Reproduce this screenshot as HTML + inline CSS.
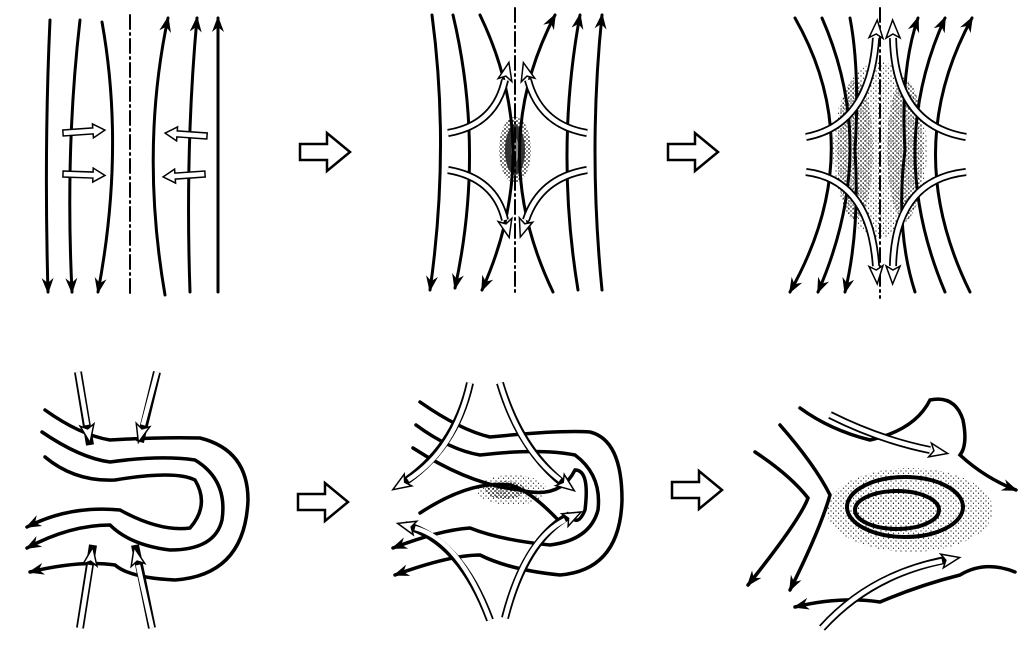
<!DOCTYPE html>
<html><head><style>
html,body{margin:0;padding:0;background:#fff;}
svg{display:block;}
</style></head><body>
<svg width="1024" height="645" viewBox="0 0 1024 645" xmlns="http://www.w3.org/2000/svg">
<defs>
<marker id="ah" markerUnits="userSpaceOnUse" markerWidth="20" markerHeight="20" refX="14" refY="6" orient="auto">
<path d="M0,0 L16,6 L0,12 L5,6 Z" fill="#000"/>
</marker>
<marker id="hh" markerUnits="userSpaceOnUse" markerWidth="30" markerHeight="30" refX="2" refY="10" orient="auto">
<path d="M2,3 L20,10 L2,17 L6,10 Z" fill="#fff" stroke="#000" stroke-width="1.5"/>
</marker>
<pattern id="dots" width="5" height="5" patternUnits="userSpaceOnUse">
<circle cx="1" cy="1" r="0.6" fill="#000"/><circle cx="3.5" cy="3.2" r="0.6" fill="#000"/>
</pattern>
<pattern id="dots2" width="4" height="4" patternUnits="userSpaceOnUse">
<circle cx="1" cy="1" r="0.9" fill="#000"/><circle cx="3" cy="3" r="0.8" fill="#000"/>
</pattern>
</defs>

<g fill="none" stroke="#000" stroke-width="3" stroke-linecap="round">
<path d="M50,20 Q44,150 48,292" marker-end="url(#ah)"/>
<path d="M80,20 Q65,150 72,292" marker-end="url(#ah)"/>
<path d="M102,22 Q125,150 98,292" marker-end="url(#ah)"/>
<path d="M130,15 L130,295" stroke-width="2" stroke-dasharray="14,4,2,4"/>
<path d="M165,295 Q140,150 168,18" marker-end="url(#ah)"/>
<path d="M190,292 Q185,150 197,18" marker-end="url(#ah)"/>
<path d="M218,292 L218,18" marker-end="url(#ah)"/>
</g>

<ellipse cx="515" cy="150" rx="16" ry="33" fill="url(#dots2)"/>
<ellipse cx="515" cy="150" rx="10" ry="25" fill="#333"/>
<ellipse cx="515" cy="150" rx="4" ry="12" fill="#888"/>
<ellipse cx="880" cy="150" rx="47" ry="88" fill="url(#dots)"/>
<ellipse cx="855" cy="150" rx="18" ry="70" fill="url(#dots2)" opacity="0.7"/>
<ellipse cx="905" cy="150" rx="18" ry="70" fill="url(#dots2)" opacity="0.7"/>

<g fill="none" stroke="#000" stroke-width="3" stroke-linecap="round">
<path d="M432,15 Q450,150 430,290" marker-end="url(#ah)"/>
<path d="M453,15 Q485,150 455,288" marker-end="url(#ah)"/>
<path d="M480,15 Q545,150 482,290" marker-end="url(#ah)"/>
<path d="M515,8 L515,296" stroke-width="2" stroke-dasharray="14,4,2,4"/>
<path d="M553,292 Q485,150 555,15" marker-end="url(#ah)"/>
<path d="M578,290 Q555,150 580,15" marker-end="url(#ah)"/>
<path d="M602,290 Q588,150 602,15" marker-end="url(#ah)"/>

<path d="M795,18 Q870,150 790,292" marker-end="url(#ah)"/>
<path d="M822,18 Q880,150 818,292" marker-end="url(#ah)"/>
<path d="M850,18 Q860,70 855,150 Q860,230 845,292" marker-end="url(#ah)"/>
<path d="M880,8 L880,298" stroke-width="2" stroke-dasharray="14,4,2,4"/>
<path d="M915,292 Q895,230 905,150 Q900,70 918,18" marker-end="url(#ah)"/>
<path d="M945,292 Q885,150 945,18" marker-end="url(#ah)"/>
<path d="M970,292 Q900,150 972,18" marker-end="url(#ah)"/>
</g>

<g fill="#fff" stroke="#000" stroke-width="1.5">
<g transform="translate(63,133) rotate(-4)"><polygon points="0,-3 30,-3 30,-7 42,0 30,7 30,3 0,3"/></g>
<g transform="translate(63,174) rotate(2)"><polygon points="0,-3 30,-3 30,-7 42,0 30,7 30,3 0,3"/></g>
<g transform="translate(207,136) rotate(184)"><polygon points="0,-3 30,-3 30,-7 42,0 30,7 30,3 0,3"/></g>
<g transform="translate(205,174) rotate(176)"><polygon points="0,-3 30,-3 30,-7 42,0 30,7 30,3 0,3"/></g>
<g transform="translate(300,152)"><polygon points="0,-8 27,-8 27,-19 50,0 27,19 27,8 0,8" stroke-width="2.5"/></g>
<g transform="translate(668,152)"><polygon points="0,-8 27,-8 27,-19 50,0 27,19 27,8 0,8" stroke-width="2.5"/></g>
<g transform="translate(298,502)"><polygon points="0,-8 27,-8 27,-19 50,0 27,19 27,8 0,8" stroke-width="2.5"/></g>
<g transform="translate(672,490)"><polygon points="0,-8 27,-8 27,-19 50,0 27,19 27,8 0,8" stroke-width="2.5"/></g>
</g>

<g fill="none" stroke-linecap="butt">
<g stroke="#000" stroke-width="8">
<path d="M448,133 Q495,125 505,80"/><path d="M587,133 Q540,125 528,80"/>
<path d="M448,170 Q495,178 505,220"/><path d="M587,170 Q540,178 526,220"/>
<path d="M806,137 Q870,125 876,38"/><path d="M966,137 Q895,125 893,38"/>
<path d="M806,172 Q870,180 876,266"/><path d="M966,172 Q895,180 893,266"/>
</g>
<g stroke="#fff" stroke-width="4.5">
<path d="M448,133 Q495,125 505,80" marker-end="url(#hh)"/><path d="M587,133 Q540,125 528,80" marker-end="url(#hh)"/>
<path d="M448,170 Q495,178 505,220" marker-end="url(#hh)"/><path d="M587,170 Q540,178 526,220" marker-end="url(#hh)"/>
<path d="M806,137 Q870,125 876,38" marker-end="url(#hh)"/><path d="M966,137 Q895,125 893,38" marker-end="url(#hh)"/>
<path d="M806,172 Q870,180 876,266" marker-end="url(#hh)"/><path d="M966,172 Q895,180 893,266" marker-end="url(#hh)"/>
</g>
</g>

<g fill="none" stroke="#000" stroke-width="3.5" stroke-linecap="round">
<path d="M45,410 Q80,435 110,440 Q160,437 200,438 Q248,450 248,500 Q245,575 175,580 Q130,578 115,565 Q80,560 30,572" marker-end="url(#ah)"/>
<path d="M42,432 Q80,458 110,462 Q160,455 195,460 Q228,480 222,520 Q215,550 170,550 Q130,545 110,525 Q70,525 27,548" marker-end="url(#ah)"/>
<path d="M45,457 Q75,482 115,480 Q175,470 195,480 Q210,505 190,528 Q160,532 120,510 Q70,505 27,527" marker-end="url(#ah)"/>
<path d="M420,402 Q460,430 490,437 Q560,430 590,432 Q622,440 622,500 Q620,570 560,575 Q510,570 480,555 Q450,555 395,575" marker-end="url(#ah)"/>
<path d="M416,425 Q450,450 480,455 Q540,448 575,455 Q602,475 598,510 Q590,540 550,545 Q500,540 470,528 Q440,530 393,548" marker-end="url(#ah)"/>
<path d="M413,448 Q470,485 520,490 Q560,500 575,470 Q590,470 585,510 Q580,522 575,520 M560,522 Q530,490 510,485 Q470,480 420,513" />
<path d="M800,408 Q830,430 870,440 Q915,430 930,400 Q955,395 963,420 Q968,445 960,455 Q985,478 1016,490" marker-end="url(#ah)"/>
<path d="M755,452 Q790,475 808,498 Q800,520 748,585" marker-end="url(#ah)"/>
<path d="M780,425 Q815,465 830,495 Q820,530 790,590" marker-end="url(#ah)"/>
<path d="M1015,572 Q985,560 960,575 Q920,585 880,602 Q840,596 795,607" marker-end="url(#ah)"/>
</g>

<ellipse cx="512" cy="490" rx="35" ry="15" fill="url(#dots)"/>
<ellipse cx="505" cy="490" rx="20" ry="9" fill="url(#dots2)"/>
<ellipse cx="910" cy="510" rx="83" ry="42" fill="url(#dots)"/>
<ellipse cx="898" cy="510" rx="45" ry="20" fill="url(#dots)"/>
<g fill="none" stroke="#000" stroke-width="4">
<ellipse cx="905" cy="507" rx="58" ry="30"/>
<ellipse cx="897" cy="510" rx="42" ry="19"/>
</g>

<g fill="none">
<g stroke="#000" stroke-width="8">
<path d="M78,372 L90,445"/><path d="M157,372 L140,442"/>
<path d="M80,628 L93,545"/><path d="M152,628 L135,545"/>
<path d="M470,383 Q455,450 400,485"/><path d="M500,383 Q520,450 565,485"/>
<path d="M490,620 Q460,540 405,525"/><path d="M505,618 Q525,540 570,515"/>
<path d="M830,415 Q880,440 930,450"/><path d="M822,628 Q870,575 945,560"/>
</g>
<g stroke="#fff" stroke-width="4.5">
<path d="M78,372 L87,425" marker-end="url(#hh)"/><path d="M157,372 L143,425" marker-end="url(#hh)"/>
<path d="M80,628 L90,565" marker-end="url(#hh)"/><path d="M152,628 L138,565" marker-end="url(#hh)"/>
<path d="M470,383 Q455,450 408,480" marker-end="url(#hh)"/><path d="M500,383 Q520,450 560,480" marker-end="url(#hh)"/>
<path d="M490,620 Q460,540 415,528" marker-end="url(#hh)"/><path d="M505,618 Q525,540 565,520" marker-end="url(#hh)"/>
<path d="M830,415 Q880,440 930,450" marker-end="url(#hh)"/><path d="M822,628 Q870,575 942,561" marker-end="url(#hh)"/>
</g>
</g>
</svg>
</body></html>
